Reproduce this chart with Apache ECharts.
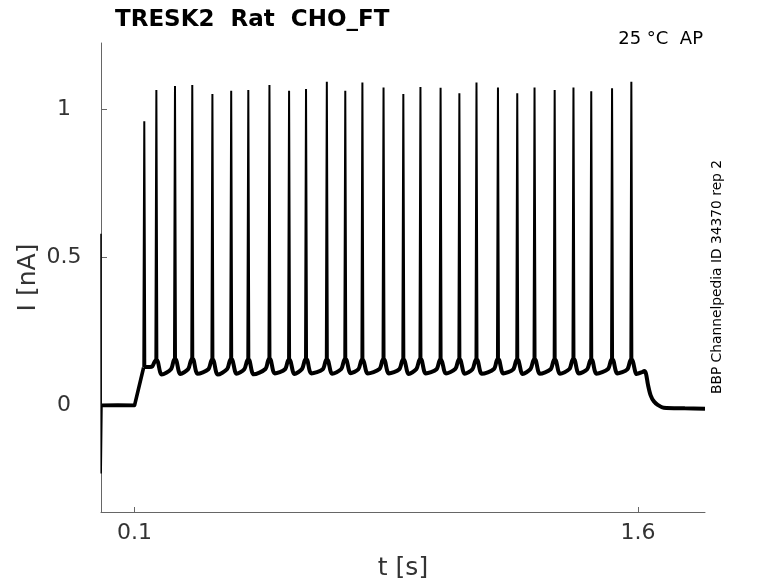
<!DOCTYPE html>
<html><head><meta charset="utf-8">
<script src="https://cdn.jsdelivr.net/npm/echarts@6/dist/echarts.min.js"></script>
<style>html,body{margin:0;padding:0;background:#fff}#c{width:778px;height:583px}</style>
</head><body><div id="c"></div>
<script>
const chartTitle = 'TRESK2  Rat  CHO_FT';
const condition = '25 °C  AP';
const sideNote = 'BBP Channelpedia ID 34370 rep 2';
const xName = 't [s]';
const yName = 'I [nA]';
const xTicks = [0.1, 1.6];
const yTicks = [0, 0.5, 1];

// spike times (s) and peak currents (nA)
const spikeT = [0.129, 0.165, 0.2205, 0.272, 0.332, 0.388, 0.439, 0.502, 0.5605, 0.611,
  0.673, 0.728, 0.779, 0.842, 0.901, 0.952, 1.012, 1.068, 1.119, 1.183,
  1.2405, 1.292, 1.352, 1.408, 1.461, 1.523, 1.5805];
const spikePeak = [0.960, 1.065, 1.079, 1.082, 1.052, 1.063, 1.065, 1.082, 1.063, 1.069,
  1.093, 1.063, 1.091, 1.074, 1.052, 1.075, 1.073, 1.054, 1.091, 1.074,
  1.054, 1.074, 1.065, 1.074, 1.061, 1.071, 1.093];
// value at foot of each spike
const spikeFoot = [0.130, 0.152, 0.155, 0.156, 0.153, 0.155, 0.153, 0.156, 0.153, 0.155,
  0.153, 0.155, 0.153, 0.154, 0.153, 0.155, 0.153, 0.154, 0.153, 0.155,
  0.153, 0.154, 0.153, 0.155, 0.153, 0.154, 0.153];
// minimum (band centre) after each spike
const troughI = [0.130, 0.104, 0.106, 0.107, 0.104, 0.107, 0.105, 0.108, 0.106, 0.108,
  0.107, 0.109, 0.108, 0.108, 0.106, 0.108, 0.108, 0.107, 0.107, 0.108,
  0.106, 0.107, 0.107, 0.108, 0.107, 0.108, 0.106];
// value just before the upstroke into each spike
const hookI = [0.125, 0.132, 0.122, 0.123, 0.122, 0.123, 0.122, 0.123, 0.122, 0.123,
  0.122, 0.123, 0.122, 0.123, 0.122, 0.123, 0.122, 0.123, 0.122, 0.123,
  0.122, 0.123, 0.122, 0.123, 0.122, 0.123, 0.122];
// capacitive transient at t = 0
const transient = [[0, 0.58], [0.0006, -0.23], [0.003, 0.0]];
// holding level and ramp onto the step
const holdRamp = [[0.003, 0.0], [0.05, 0.001], [0.1, 0.0], [0.127, 0.128]];
// after the last spike: bump, decay, holding
const postStep = [[1.612, 0.112], [1.619, 0.116], [1.624, 0.108], [1.630, 0.07], [1.638, 0.034], [1.648, 0.013],
  [1.660, 0.001], [1.677, -0.008], [1.74, -0.010], [1.80, -0.011]];

// spikes: foot - peak - foot, separated by gaps
const spikes = [];
// sub-threshold band during the step
const band = [];
for (let i = 0; i < spikeT.length; i++) {
  const t = spikeT[i];
  if (i > 0) band.push([t - 0.012, hookI[i]]);
  band.push([t - 0.002, spikeFoot[i]]);
  band.push([t + 0.002, spikeFoot[i]]);
  band.push([t + 0.016, troughI[i]]);
  spikes.push([t - 0.003, spikeFoot[i]], [t, spikePeak[i]], [t + 0.003, spikeFoot[i]], null);
}
postStep.forEach(p => band.push(p));

const FONT = 'DejaVu Sans';
const chart = echarts.init(document.getElementById('c'), null, {renderer: 'canvas'});
chart.setOption({
  animation: false,
  backgroundColor: '#fff',
  grid: {left: 101, right: 73, top: 43, bottom: 71, containLabel: false, outerBoundsMode: 'none'},
  xAxis: {
    type: 'value', min: 0, max: 1.8,
    name: xName, nameLocation: 'middle', nameGap: 44, nameMoveOverlap: false,
    nameTextStyle: {fontFamily: FONT, fontSize: 25, color: '#333'},
    axisLine: {show: true, onZero: false, lineStyle: {color: '#666', width: 1}},
    axisTick: {show: true, inside: true, length: 5, customValues: xTicks, lineStyle: {color: '#666'}},
    axisLabel: {customValues: xTicks, fontFamily: FONT, fontSize: 22, color: '#333', margin: 10,
      formatter: v => String(v)},
    splitLine: {show: false}
  },
  yAxis: {
    type: 'value', min: -0.36, max: 1.224,
    name: yName, nameLocation: 'middle', nameGap: 60, nameRotate: 90, nameMoveOverlap: false,
    nameTextStyle: {fontFamily: FONT, fontSize: 25, color: '#333'},
    axisLine: {show: true, onZero: false, lineStyle: {color: '#666', width: 1}},
    axisTick: {show: true, inside: true, length: 6, customValues: yTicks, lineStyle: {color: '#666'}},
    axisLabel: {customValues: yTicks, fontFamily: FONT, fontSize: 22, color: '#333', margin: 37,
      align: 'center', formatter: v => String(v)},
    splitLine: {show: false}
  },
  title: {
    text: chartTitle, left: 110, top: 4,
    textStyle: {fontFamily: FONT, fontSize: 23, fontWeight: 'bold', color: '#000'}
  },
  graphic: [
    {type: 'text', right: 75, top: 30,
      style: {text: condition, fontFamily: FONT, fontSize: 18, fill: '#000'}},
    {type: 'text', x: 717, y: 277, rotation: Math.PI / 2,
      style: {text: sideNote, fontFamily: FONT, fontSize: 13.8, fill: '#000', align: 'center', verticalAlign: 'middle'}}
  ],
  series: [
    {type: 'line', data: transient, showSymbol: false, symbol: 'none',
      lineStyle: {color: '#000', width: 1.5}, z: 3, silent: true},
    {type: 'line', data: holdRamp, showSymbol: false, symbol: 'none',
      lineStyle: {color: '#000', width: 3.6, join: 'round'}, z: 2, silent: true},
    {type: 'line', data: band, showSymbol: false, symbol: 'none', smooth: 0.3,
      lineStyle: {color: '#000', width: 4}, z: 2, silent: true},
    {type: 'line', data: spikes, showSymbol: false, symbol: 'none', connectNulls: false,
      lineStyle: {color: '#000', width: 2}, z: 3, silent: true}
  ]
});
</script></body></html>
